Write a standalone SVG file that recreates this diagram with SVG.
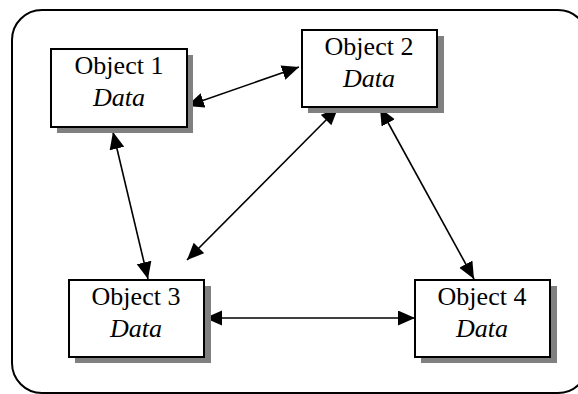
<svg xmlns="http://www.w3.org/2000/svg" width="578" height="394" viewBox="0 0 578 394">
<style>
.frame{fill:#fff;stroke:#000;stroke-width:2}
.shadow{fill:#808080}
.box{fill:#fff;stroke:#000;stroke-width:2}
text{font-family:'Liberation Serif','DejaVu Serif',serif;font-size:26px;fill:#000;text-anchor:middle}
.i{font-style:italic}
.c{stroke:#000;stroke-width:1.6;fill:none;marker-start:url(#ah);marker-end:url(#ah)}
</style>
<defs>
<marker id="ah" markerUnits="userSpaceOnUse" markerWidth="18" markerHeight="16" refX="17" refY="7.5" orient="auto-start-reverse">
<path d="M0,0 L17,7.5 L0,15 z" fill="#000"/>
</marker>
</defs>
<rect class="frame" x="12" y="10" width="576" height="383" rx="30" ry="30"/>
<g id="connectors">
<line class="c" x1="187" y1="106" x2="299" y2="67"/>
<line class="c" x1="113" y1="132" x2="148" y2="279"/>
<line class="c" x1="338" y1="108" x2="187" y2="260"/>
<line class="c" x1="380" y1="108" x2="474" y2="279"/>
<line class="c" x1="205" y1="318" x2="415" y2="318"/>
</g>
<g id="object1">
<rect class="shadow" x="57" y="55" width="136" height="78"/>
<rect class="box" x="51" y="49" width="136" height="78"/>
<text x="119" y="74" font-family="Liberation Serif, serif">Object 1</text>
<text class="i" x="119" y="106" font-family="Liberation Serif, serif">Data</text>
</g>
<g id="object2">
<rect class="shadow" x="308" y="36" width="136" height="77"/>
<rect class="box" x="302" y="30" width="135" height="77"/>
<text x="369" y="55" font-family="Liberation Serif, serif">Object 2</text>
<text class="i" x="369" y="87" font-family="Liberation Serif, serif">Data</text>
</g>
<g id="object3">
<rect class="shadow" x="75" y="286" width="136" height="77"/>
<rect class="box" x="69" y="280" width="135" height="77"/>
<text x="136" y="305" font-family="Liberation Serif, serif">Object 3</text>
<text class="i" x="136" y="337" font-family="Liberation Serif, serif">Data</text>
</g>
<g id="object4">
<rect class="shadow" x="421" y="286" width="136" height="77"/>
<rect class="box" x="415" y="280" width="135" height="77"/>
<text x="482" y="305" font-family="Liberation Serif, serif">Object 4</text>
<text class="i" x="482" y="337" font-family="Liberation Serif, serif">Data</text>
</g>
</svg>
